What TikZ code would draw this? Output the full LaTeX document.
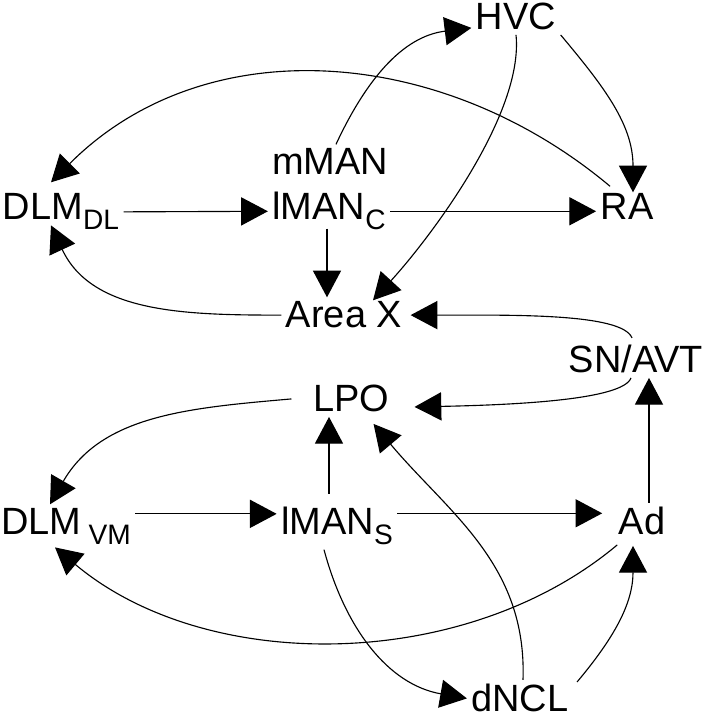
\documentclass[tikz,border=0pt]{standalone}
\usepackage{fontspec}
\setmainfont{Liberation Sans}
\usetikzlibrary{arrows.meta}
\newcommand{\lowsub}[1]{\raisebox{-7pt}{\fontsize{20}{20}\selectfont #1}}

\begin{document}
\begin{tikzpicture}[x=.025cm, y=.025cm, line width=.8pt, >={Triangle[length=19pt,width=20pt]}]
        \tikzset{
  nucleus/.style={
    inner sep=.1cm,
    anchor=base,
    font=\fontsize{27}{30}\selectfont
  }
}
\useasboundingbox (0,0) rectangle (706,720);

\foreach \n/\x/\y/\t in {hvc/516/690/HVC, mman/330/545/mMAN, dlmdl/61/500/DLM\lowsub{DL},
    lmanc/329/500/lMAN\lowsub{C}, ra/627/500/RA, areax/344/392/Area X, snavt/636/347/{SN/AVT},
    lpo/351/308/LPO, dlmvm/66/185/DLM\hspace{5pt}\lowsub{VM}, lmans/337/185/lMAN\lowsub{S},
    ad/642/185/Ad, dncl/520/8/dNCL}
  \node [nucleus] (\n) at (\x,\y) {\t};

% song system
\draw [->] ([shift={(6,0)}]mman.north) to[out=65,in=187] ([shift={(0,7)}]hvc.south west);
\draw [->] (hvc.south east) to[out=-50,in=90] ([shift={(6,-3)}]ra.north);
\draw [->] (hvc.south) .. controls +(8,-80) and +(55,60) .. ([shift={(29,-3)}]areax.north);
\draw [->] ([shift={(14,3)}]ra.north west) to[out=140,in=45] ([shift={(-10,7)}]dlmdl.north);
\draw [->] (dlmdl.east) -- (lmanc.west);
\draw [->] (lmanc.east) -- (lmanc.east -| ra.west);
\draw [->] ([shift={(-2,6)}]lmanc.south) -- ([shift={(-2,0)}]lmanc.south |- areax.north);
\draw [->] (areax.west) to[out=180,in=-65] ([shift={(-10,9)}]dlmdl.south);

% SN/AVT
\draw [->] ([shift={(-4,3)}]snavt.north) .. controls +(-10,25) and +(100,0) .. ([shift={(4,0)}]areax.east);
\draw [->] ([shift={(-5,0)}]snavt.south) .. controls +(-8,-22) and +(100,2) .. ([shift={(21,-8)}]lpo.east);
\draw [->] ([shift={(7,0)}]ad.north) -- ([shift={(7,0)}]ad.north |- snavt.south);

% lower loop
\draw [->] ([shift={(-17,0)}]lpo.west) to[out=185,in=60] ([shift={(-16,0)}]dlmvm.north);
\draw [->] ([shift={(0,13)}]dlmvm.east) -- ([shift={(0,13)}]dlmvm.east -| lmans.west);
\draw [->] ([shift={(-8,9)}]lmans.north) -- ([shift={(-8,0)}]lmans.north |- lpo.south);
\draw [->] ([shift={(0,13)}]lmans.east) -- ([shift={(-12,13)}]lmans.east -| ad.west);
\draw [->] ([shift={(3,-5)}]ad.south west) to[out=220,in=-40,looseness=.9] ([shift={(-11,2)}]dlmvm.south);
\draw [->] ([shift={(-13,0)}]lmans.south) to[out=-75,in=170] (dncl.west);
\draw [->] ([shift={(3,0)}]dncl.north) to[out=88,in=-50] ([shift={(-20,-7)}]lpo.south east);
\draw [->] ([shift={(4,-2)}]dncl.north east) to[out=50,in=-90] ([shift={(-9,-6)}]ad.south);
      \end{tikzpicture}
\end{document}
